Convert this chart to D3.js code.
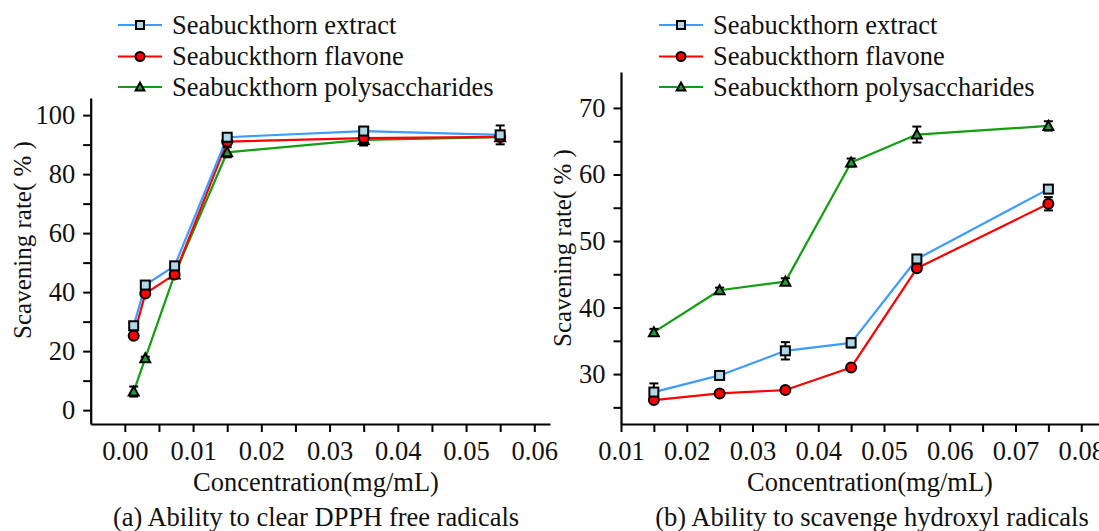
<!DOCTYPE html>
<html>
<head>
<meta charset="utf-8">
<script src="https://cdn.jsdelivr.net/npm/d3@7/dist/d3.min.js"></script>
<style>
  html, body { margin: 0; padding: 0; background: #fff; }
  svg { display: block; }
</style>
</head>
<body>
<svg id="chart" width="1099" height="531"></svg>
<script>
// ---------- data ----------
const seriesNames = ["Seabuckthorn extract", "Seabuckthorn flavone", "Seabuckthorn polysaccharides"];

// (a) DPPH
const concDPPH = [0.0013, 0.003, 0.0073, 0.015, 0.035, 0.055];
const extractDPPH = [28.6, 42.4, 48.9, 92.5, 94.6, 93.3];
const flavoneDPPH = [25.2, 39.5, 46.0, 91.0, 92.2, 92.6];
const polyDPPH = [6.3, 17.6, 46.0, 87.4, 91.6, 92.5];
const extractDPPHErr = [0.8, 0.6, 0.5, 0.9, 0.8, 3.2];
const flavoneDPPHErr = [0.5, 0.6, 0.5, 0.8, 2.5, 1.0];
const polyDPPHErr = [1.7, 0.5, 0.5, 1.7, 1.2, 1.0];

// (b) hydroxyl
const concOH = [0.015, 0.025, 0.035, 0.045, 0.055, 0.075];
const extractOH = [27.3, 29.8, 33.5, 34.7, 47.3, 57.8];
const flavoneOH = [26.1, 27.1, 27.6, 31.0, 45.9, 55.6];
const polyOH = [36.3, 42.6, 43.9, 61.8, 66.0, 67.3];
const extractOHErr = [1.3, 0.3, 1.3, 0.7, 0.5, 0.6];
const flavoneOHErr = [0.3, 0.3, 0.3, 0.3, 0.3, 1.0];
const polyOHErr = [0.5, 0.4, 0.5, 0.6, 1.2, 0.7];

const xTicksA = d3.range(0, 0.0601, 0.005);
const yTicksA = d3.range(0, 100.1, 10);
const xTicksB = d3.range(0.01, 0.0851, 0.005);
const yTicksB = d3.range(25, 70.1, 5);

const xLabel = "Concentration(mg/mL)";
const yLabel = "Scavening rate( % )";
const captionA = "(a) Ability to clear DPPH free radicals";
const captionB = "(b) Ability to scavenge hydroxyl radicals";

// ---------- styles ----------
const styles = [
  { line: "#3d9bff", fill: "#b0d9e8", shape: "square" },
  { line: "#ff0000", fill: "#ff0000", shape: "circle" },
  { line: "#119e11", fill: "#17a33a", shape: "triangle" }
];
const FS = 26.5;
const FONT = '"Liberation Serif"';

const svg = d3.select("#chart");

function styleText(sel, size) {
  return sel.attr("font-family", "Liberation Serif").style("font-family", FONT)
    .style("font-size", (size || FS) + "px").attr("fill", "#111");
}

function drawMarker(g, shape, cx, cy, size, fill) {
  if (shape === "square") {
    g.append("rect").attr("x", cx - size / 2).attr("y", cy - size / 2)
      .attr("width", size).attr("height", size)
      .attr("fill", fill).attr("stroke", "#000").attr("stroke-width", 2);
  } else if (shape === "circle") {
    g.append("circle").attr("cx", cx).attr("cy", cy).attr("r", size / 2 + 0.5)
      .attr("fill", fill).attr("stroke", "#000").attr("stroke-width", 2);
  } else {
    const h = size;
    const pts = [[cx, cy - h * 0.55], [cx - h * 0.55, cy + h * 0.45], [cx + h * 0.55, cy + h * 0.45]];
    g.append("path").attr("d", "M" + pts.map(p => p.join(",")).join("L") + "Z")
      .attr("fill", fill).attr("stroke", "#000").attr("stroke-width", 2)
      .attr("stroke-linejoin", "miter");
  }
}

function panel(cfg) {
  const x = d3.scaleLinear().domain(cfg.xDomain).range(cfg.xRange);
  const y = d3.scaleLinear().domain(cfg.yDomain).range(cfg.yRange);
  const g = svg.append("g");

  // axes
  const xAxis = d3.axisBottom(x).tickValues(cfg.xTicks).tickSize(8).tickSizeOuter(0).tickPadding(9)
    .tickFormat(d => cfg.xMajor(d) ? d3.format(".2f")(d) : "");
  const gx = g.append("g").attr("transform", `translate(0,${cfg.yRange[0]})`).call(xAxis);
  const yAxis = d3.axisLeft(y).tickValues(cfg.yTicks).tickSize(7.5).tickSizeOuter(0).tickPadding(8)
    .tickFormat(d => cfg.yMajor(d) ? d3.format("d")(d) : "");
  const gy = g.append("g").attr("transform", `translate(${cfg.xRange[0]},0)`).call(yAxis);
  [gx, gy].forEach(a => {
    a.attr("font-family", "Liberation Serif");
    a.selectAll("path.domain").attr("stroke", "#000").attr("stroke-width", 2.2);
    a.selectAll(".tick line").attr("stroke", "#000").attr("stroke-width", 2);
    styleText(a.selectAll(".tick text"));
  });
  gx.selectAll(".tick text").attr("dy", "0.72em");

  // lines (draw green, red, blue so blue on top)
  const order = [2, 1, 0];
  const line = d3.line().x((d, i) => x(cfg.xs[i])).y(d => y(d));
  order.forEach(k => {
    g.append("path").datum(cfg.values[k]).attr("d", line)
      .attr("fill", "none").attr("stroke", styles[k].line).attr("stroke-width", 2.2)
      .attr("stroke-linejoin", "round");
  });
  // error bars
  order.forEach(k => {
    cfg.values[k].forEach((v, i) => {
      const e = cfg.errs[k][i];
      const cx = x(cfg.xs[i]);
      const y1 = y(v - e), y2 = y(v + e);
      g.append("line").attr("x1", cx).attr("x2", cx).attr("y1", y1).attr("y2", y2)
        .attr("stroke", "#000").attr("stroke-width", 2);
      [y1, y2].forEach(yy => g.append("line").attr("x1", cx - 4.5).attr("x2", cx + 4.5)
        .attr("y1", yy).attr("y2", yy).attr("stroke", "#000").attr("stroke-width", 2));
    });
  });
  // markers
  order.forEach(k => {
    cfg.values[k].forEach((v, i) => {
      drawMarker(g, styles[k].shape, x(cfg.xs[i]), y(v), 9, styles[k].fill);
    });
  });

  // axis titles
  styleText(g.append("text").attr("x", cfg.xTitleX).attr("y", 491).attr("text-anchor", "middle")).text(xLabel);
  styleText(g.append("text").attr("transform", `translate(${cfg.yTitleX},${cfg.yTitleY}) rotate(-90)`)
    .attr("text-anchor", "middle").attr("dy", "0.35em"), 25).text(yLabel);
  styleText(g.append("text").attr("x", cfg.capX).attr("y", 526).attr("text-anchor", "middle")).text(cfg.caption);

  // legend
  const lg = g.append("g");
  seriesNames.forEach((name, k) => {
    const ly = cfg.legendY[k];
    lg.append("line").attr("x1", cfg.legendX).attr("x2", cfg.legendX + 44)
      .attr("y1", ly).attr("y2", ly).attr("stroke", styles[k].line).attr("stroke-width", 2.2);
    drawMarker(lg, styles[k].shape, cfg.legendX + 22, ly, 8, styles[k].fill);
    styleText(lg.append("text").attr("x", cfg.legendX + 54).attr("y", ly).attr("dy", "0.33em")).text(name);
  });
}

panel({
  xDomain: [-0.005, 0.0623], xRange: [90.7, 550],
  yDomain: [-4.7, 105.8], yRange: [424, 98],
  xTicks: xTicksA, yTicks: yTicksA,
  xMajor: d => Math.abs(Math.round(d * 1000) % 10) === 0,
  yMajor: d => Math.round(d) % 20 === 0,
  xs: concDPPH,
  values: [extractDPPH, flavoneDPPH, polyDPPH],
  errs: [extractDPPHErr, flavoneDPPHErr, polyDPPHErr],
  xTitleX: 316, yTitleX: 22, yTitleY: 240, capX: 316, caption: captionA,
  legendX: 118, legendY: [25, 56.5, 87]
});

panel({
  xDomain: [0.01, 0.0827], xRange: [621, 1099],
  yDomain: [22.5, 75.4], yRange: [424, 72],
  xTicks: xTicksB, yTicks: yTicksB,
  xMajor: d => Math.abs(Math.round(d * 1000) % 10) === 0,
  yMajor: d => Math.round(d) % 10 === 0,
  xs: concOH,
  values: [extractOH, flavoneOH, polyOH],
  errs: [extractOHErr, flavoneOHErr, polyOHErr],
  xTitleX: 870, yTitleX: 562, yTitleY: 248, capX: 872, caption: captionB,
  legendX: 659, legendY: [25, 56.5, 87]
});
</script>
</body>
</html>
